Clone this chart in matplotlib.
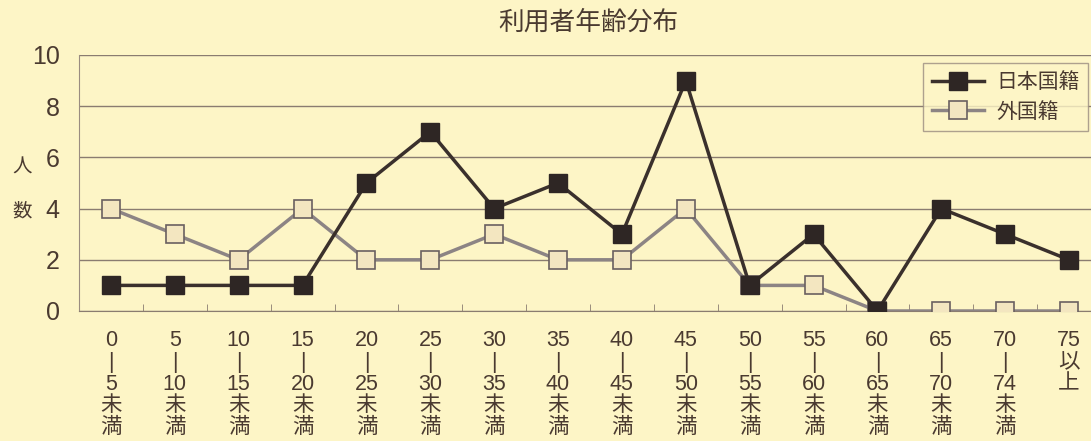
import matplotlib
matplotlib.use("Agg")
import matplotlib.pyplot as plt
import numpy as np

plt.rcParams['font.family'] = ['Liberation Sans', 'Noto Sans CJK JP', 'DejaVu Sans']

age_labels = ["0\n|\n5\n未\n満", "5\n|\n10\n未\n満", "10\n|\n15\n未\n満", "15\n|\n20\n未\n満",
              "20\n|\n25\n未\n満", "25\n|\n30\n未\n満", "30\n|\n35\n未\n満", "35\n|\n40\n未\n満",
              "40\n|\n45\n未\n満", "45\n|\n50\n未\n満", "50\n|\n55\n未\n満", "55\n|\n60\n未\n満",
              "60\n|\n65\n未\n満", "65\n|\n70\n未\n満", "70\n|\n74\n未\n満", "75\n以\n上"]
japanese = [1, 1, 1, 1, 5, 7, 4, 5, 3, 9, 1, 3, 0, 4, 3, 2]
foreign = [4, 3, 2, 4, 2, 2, 3, 2, 2, 4, 1, 1, 0, 0, 0, 0]

BG = "#fdf5c6"
TXT = "#4a3a30"
W, H = 1091, 441
CJK = ['Noto Sans CJK JP', 'DejaVu Sans']

fig = plt.figure(figsize=(W / 100, H / 100), dpi=100, facecolor=BG)
ax = fig.add_axes([79 / W, 1 - 311 / H, (1101 - 79) / W, (311 - 55) / H])
ax.set_facecolor(BG)

x = np.arange(len(age_labels))
ax.plot(x, foreign, color="#8c8484", lw=2.5, marker="s", markersize=13,
        markerfacecolor="#f3e6c0", markeredgecolor="#6a6060", markeredgewidth=1.2,
        label="外国籍", zorder=3)
ax.plot(x, japanese, color="#3a302c", lw=2.5, marker="s", markersize=13,
        markerfacecolor="#2e2624", markeredgecolor="#2e2624",
        label="日本国籍", zorder=4)

ax.set_xlim(-0.5, len(age_labels) - 0.5)
ax.set_ylim(0, 10)
ax.set_yticks([0, 2, 4, 6, 8, 10])
ax.yaxis.grid(True, color="#8a7c70", lw=1.0)
ax.set_axisbelow(True)
for s in ["top", "right"]:
    ax.spines[s].set_visible(False)
ax.spines["left"].set_color("#9a8c80")
ax.spines["bottom"].set_color("#8a7c70")

ax.set_xticks(x)
ax.set_xticklabels(age_labels, fontsize=15.5, color=TXT, linespacing=1.04, va="top")
ax.set_xticks(x[:-1] + 0.5, minor=True)
ax.tick_params(axis="x", which="major", length=0, pad=14)
ax.tick_params(axis="x", which="minor", length=5, direction="in", color="#8a7c70")
ax.tick_params(axis="y", length=0, labelsize=18, labelcolor=TXT, pad=14)

fig.text(22 / W, 1 - 189 / H, "人\n\n数", fontsize=14, color=TXT, ha="center", va="center",
         linespacing=1.05, family=CJK)
fig.text(588 / W, 1 - 23 / H, "利用者年齢分布", fontsize=18.5, color=TXT, ha="center", va="center",
         family=CJK)

leg = ax.legend(handles=ax.get_lines()[::-1], loc="upper right",
                bbox_to_anchor=((1088 - 79) / (1101 - 79), 1 - (63 - 55) / (311 - 55)),
                borderaxespad=0,
                prop={'family': CJK, 'size': 15}, frameon=True, fancybox=False,
                handlelength=2.5, borderpad=0.4, labelspacing=0.35, handletextpad=0.6)
leg.get_frame().set_facecolor(BG)
leg.get_frame().set_edgecolor("#9a8c80")
for t in leg.get_texts():
    t.set_color(TXT)

fig.savefig("out.png", dpi=100, facecolor=BG)
